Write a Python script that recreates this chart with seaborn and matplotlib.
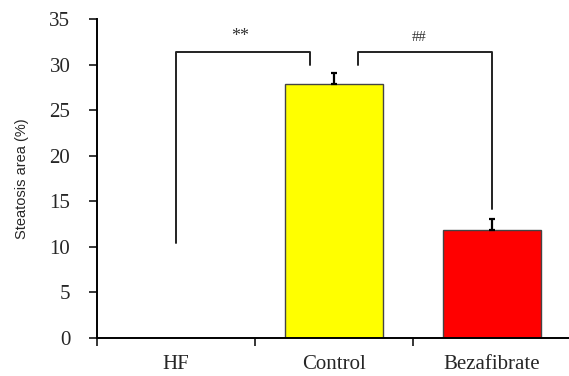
import pandas as pd
import matplotlib
matplotlib.use('Agg')
import matplotlib.pyplot as plt
import seaborn as sns

groups = ['HF', 'Control', 'Bezafibrate']
area = [0.0, 27.9, 11.9]
err = [0.0, 1.2, 1.15]
colors = ['#ffffff', '#ffff00', '#ff0000']

df = pd.DataFrame({'group': groups, 'area': area})

sns.set_style('white')
plt.rcParams['font.family'] = ['Liberation Serif', 'DejaVu Serif']

fig = plt.figure(figsize=(5.69, 3.76), dpi=100)
ax = fig.add_axes([0.170, 0.101, 0.830, 0.8485])

sns.barplot(data=df, x='group', y='area', hue='group', palette=colors, saturation=1,
            width=0.62, edgecolor='#444444', linewidth=1.0, legend=False, ax=ax)
ax.errorbar(x=[1, 2], y=area[1:], yerr=[[0, 0], err[1:]], fmt='none',
            ecolor='black', elinewidth=1.6, capsize=2.5, capthick=1.6)

# significance brackets
ax.plot([0, 0, 0.848, 0.848], [10.4, 31.4, 31.4, 30.0], color='#222222', lw=1.4)
ax.plot([1.152, 1.152, 2.0, 2.0], [30.0, 31.4, 31.4, 14.2], color='#222222', lw=1.4)
ax.text(0.405, 32.2, '**', ha='center', va='bottom', fontsize=13, color='#333333')
ax.text(1.538, 32.3, '##', ha='center', va='bottom', fontsize=10.5, color='#333333')

ax.set_xlim(-0.5, 2.49)
ax.set_ylim(0, 35)
ax.set_yticks(range(0, 36, 5))
ax.tick_params(axis='y', labelsize=15, direction='out', length=6, width=1.3, left=True, pad=13)
ax.set_xticks([-0.5, 0.5, 1.5], minor=True)
ax.tick_params(axis='x', which='minor', direction='out', length=6, width=1.3, bottom=True)
ax.tick_params(axis='x', which='major', length=0, labelsize=15, pad=12)
ax.set_xlabel('')
ax.set_ylabel('Steatosis area (%)', family=['Liberation Sans Narrow', 'Liberation Sans'],
              fontsize=10.5, labelpad=15)

sns.despine(ax=ax, top=True, right=True)
for s in ['left', 'bottom']:
    ax.spines[s].set_color('black')
    ax.spines[s].set_linewidth(1.4)

fig.savefig('out.png', dpi=100)
